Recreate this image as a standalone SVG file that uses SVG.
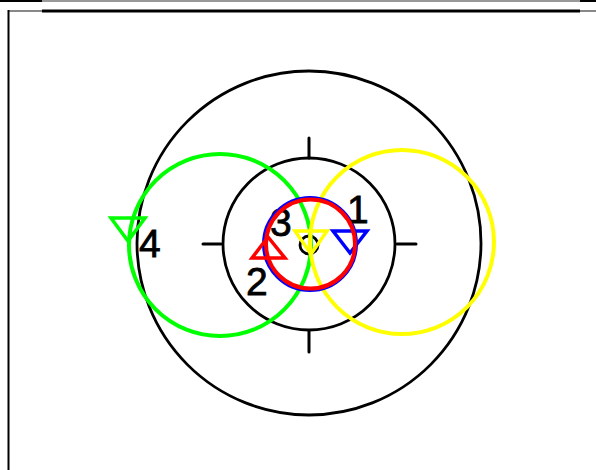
<svg xmlns="http://www.w3.org/2000/svg" width="596" height="470" viewBox="0 0 596 470">
<style>
.k{fill:none;stroke:#000;stroke-width:2.8}
.tk{stroke:#000;stroke-width:3;stroke-linecap:round}
.c{fill:none;stroke-width:4}
.t{fill:none;stroke-width:3.5}
.lbl{font-family:"Liberation Sans",Arial,sans-serif;font-size:39px;fill:#000;stroke:#000;stroke-width:0.8}
</style>
<rect width="596" height="470" fill="#fff"/>
<g id="frame">
<line x1="0" y1="1" x2="596" y2="1" stroke="#999" stroke-width="2"/>
<line x1="0" y1="1" x2="42" y2="1" stroke="#000" stroke-width="2"/>
<line x1="580" y1="1" x2="596" y2="1" stroke="#000" stroke-width="2"/>
<line x1="8" y1="11" x2="596" y2="11" stroke="#888" stroke-width="2"/>
<line x1="42" y1="11" x2="580" y2="11" stroke="#000" stroke-width="3"/>
<line x1="8.5" y1="10" x2="8.5" y2="470" stroke="#000" stroke-width="2"/>
</g>
<g id="target">
<circle class="k" cx="309" cy="243" r="172"/>
<circle class="k" cx="309" cy="244" r="86"/>
<line class="tk" x1="309" y1="138" x2="309" y2="158"/>
<line class="tk" x1="309" y1="331" x2="309" y2="352"/>
<line class="tk" x1="203" y1="244" x2="221" y2="244"/>
<line class="tk" x1="397" y1="244" x2="416" y2="244"/>
<circle class="k" cx="309" cy="245" r="9"/>
</g>
<g id="n4"><circle class="c" cx="220" cy="245" r="91" stroke="#00ff00"/>
<polygon class="t" points="111,218 145,218 128,241" stroke="#00ff00"/>
<text class="lbl" x="139" y="257">4</text></g>
<g id="n3"><circle class="c" cx="402" cy="242" r="92" stroke="#ffff00"/>
<polygon class="t" points="295,231 327,231 311,254" stroke="#ffff00"/>
<text class="lbl" x="270" y="236">3</text></g>
<g id="n1"><circle class="c" cx="310" cy="244" r="46" stroke="#0000ff"/>
<polygon class="t" points="333,231 367,231 350,253" stroke="#0000ff"/>
<text class="lbl" x="347" y="223">1</text></g>
<g id="n2"><circle class="c" cx="310.5" cy="244" r="44.5" stroke="#ff0000"/>
<polygon class="t" points="252,258 285,258 268,237" stroke="#ff0000"/>
<text class="lbl" x="246" y="295">2</text></g>
</svg>
